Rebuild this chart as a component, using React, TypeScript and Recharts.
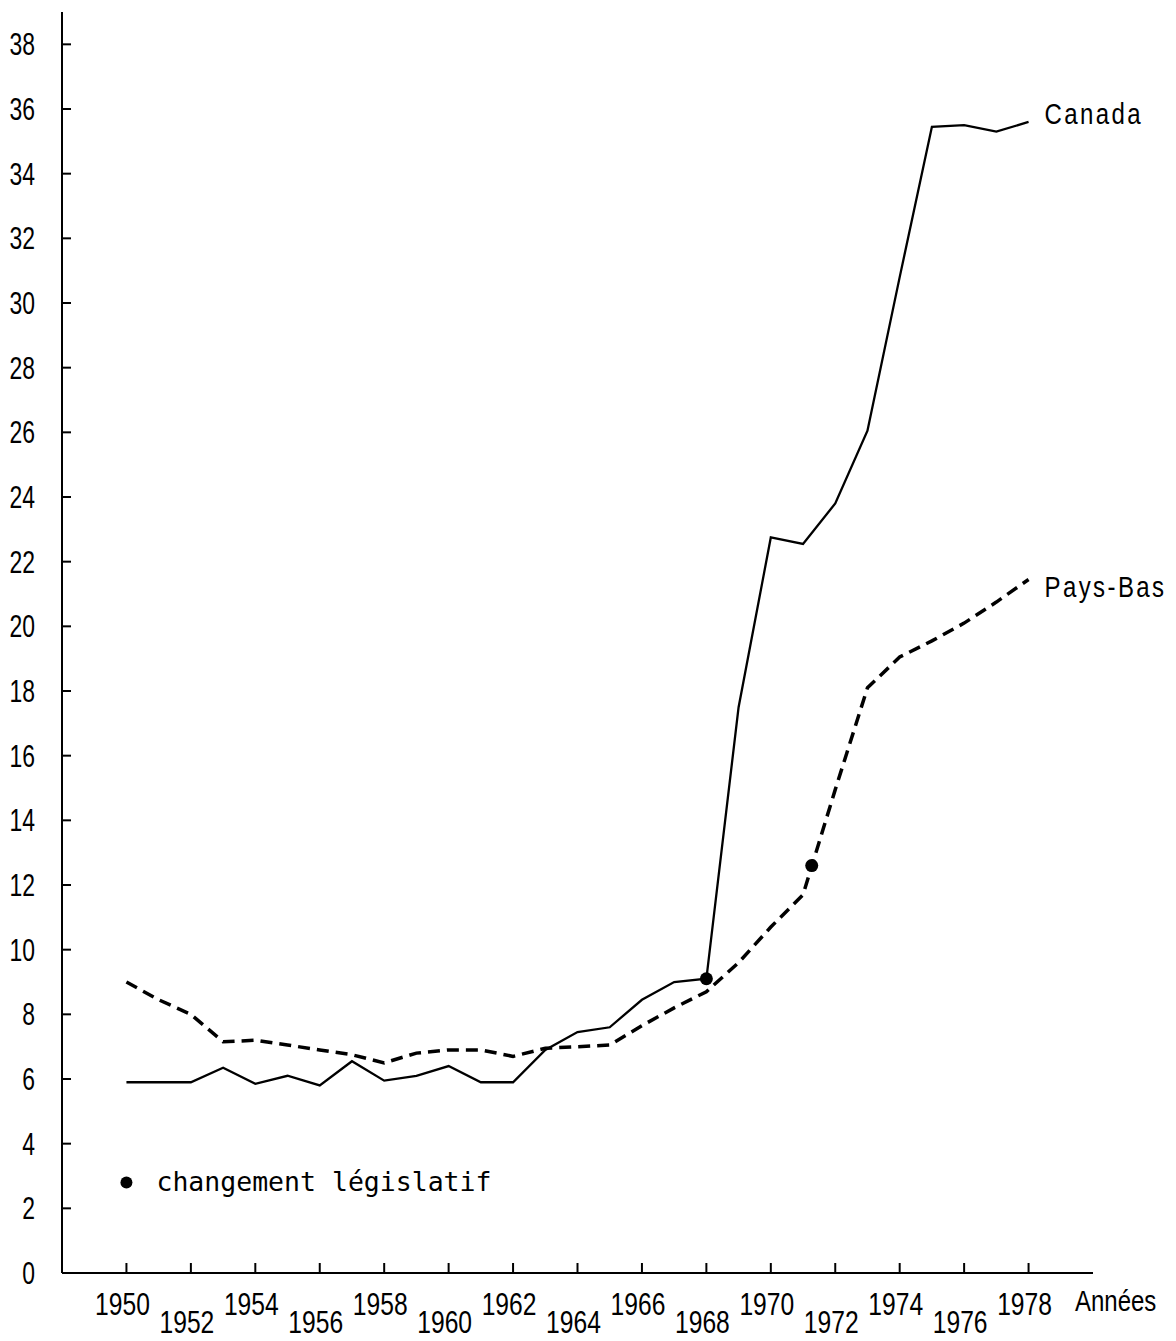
import { ComposedChart, Line, Scatter, XAxis, YAxis, ReferenceDot, LabelList } from "recharts"

// years on the x axis
const years = [
  1950, 1951, 1952, 1953, 1954, 1955, 1956, 1957, 1958, 1959,
  1960, 1961, 1962, 1963, 1964, 1965, 1966, 1967, 1968, 1969,
  1970, 1971, 1972, 1973, 1974, 1975, 1976, 1977, 1978,
]

// Canada - solid line
const canada = [
  5.9, 5.9, 5.9, 6.35, 5.85, 6.1, 5.8, 6.55, 5.95, 6.1,
  6.4, 5.9, 5.9, 6.9, 7.45, 7.6, 8.45, 9.0, 9.1, 17.5,
  22.75, 22.55, 23.8, 26.05, 30.8, 35.45, 35.5, 35.3, 35.6,
]

// Pays-Bas - dashed line
const paysBas = [
  9.0, 8.45, 8.0, 7.15, 7.2, 7.05, 6.9, 6.75, 6.5, 6.8,
  6.9, 6.9, 6.7, 6.95, 7.0, 7.05, 7.65, 8.2, 8.7, 9.6,
  10.7, 11.7, 14.95, 18.1, 19.05, 19.55, 20.1, 20.75, 21.45,
]

// legislative changes (dots)
const changeYears = [1968, 1971.27]
const changeValues = [9.1, 12.6]

const xTicks = [1950, 1952, 1954, 1956, 1958, 1960, 1962, 1964, 1966, 1968, 1970, 1972, 1974, 1976, 1978]
const yTicks = [0, 2, 4, 6, 8, 10, 12, 14, 16, 18, 20, 22, 24, 26, 28, 30, 32, 34, 36, 38]

const legendText = "changement législatif"

const chartData = years.map((year, i) => ({ year, canada: canada[i], paysBas: paysBas[i] }))
const changes = changeYears.map((year, i) => ({ year, value: changeValues[i] }))

const sans = "'Liberation Sans', Arial, sans-serif"
const mono = "'DejaVu Sans Mono', 'Liberation Mono', monospace"

// condensed text: no narrow font installed, so squeeze a regular one
const NarrowText = ({ x, y, size, sx, anchor = "start", ls = 0, children }: any) => (
  <text
    transform={`translate(${x},${y}) scale(${sx},1)`}
    textAnchor={anchor}
    fontFamily={sans}
    fontSize={size}
    letterSpacing={ls}
    fill="#000"
  >
    {children}
  </text>
)

const XTick = ({ x, y, payload, index }: any) => {
  const low = index % 2 === 1
  return (
    <g>
      <line x1={x} y1={y} x2={x} y2={y - 10} stroke="#000" strokeWidth={2} />
      <NarrowText x={x - 4} y={y + (low ? 60 : 42)} size={32} sx={0.77} anchor="middle">
        {payload.value}
      </NarrowText>
    </g>
  )
}

const YTick = ({ x, y, payload }: any) => (
  <g>
    <line x1={x} y1={y} x2={x + 9} y2={y} stroke="#000" strokeWidth={2} />
    <NarrowText x={x - 27} y={y + 11} size={31} sx={0.74} anchor="end">
      {payload.value}
    </NarrowText>
  </g>
)

const endLabel = (name: string, dy: number) => (props: any) => {
  if (props.index !== years.length - 1) return null
  return (
    <NarrowText x={props.x + 16} y={props.y + dy} size={30} sx={0.8} ls={3}>
      {name}
    </NarrowText>
  )
}

const Dot = (props: any) => <circle cx={props.cx} cy={props.cy} r={6.5} fill="#000" />

export default function App() {
  return (
    <div style={{ position: "absolute", left: 0, top: 0, background: "#fff" }}>
      <ComposedChart
        width={1176}
        height={1341}
        data={chartData}
        margin={{ top: 12, right: 83, left: 2, bottom: 38 }}
      >
        <XAxis
          dataKey="year"
          type="number"
          domain={[1948, 1980]}
          ticks={xTicks}
          interval={0}
          tickSize={0}
          tickMargin={0}
          tickLine={false}
          tick={<XTick />}
          axisLine={{ stroke: "#000", strokeWidth: 2 }}
          height={30}
          label={{
            content: ({ viewBox }: any) => (
              <NarrowText x={viewBox.x + viewBox.width - 18} y={viewBox.y + 38} size={30} sx={0.8}>
                Années
              </NarrowText>
            ),
          }}
        />
        <YAxis
          type="number"
          domain={[0, 39]}
          ticks={yTicks}
          interval={0}
          tickSize={0}
          tickMargin={0}
          tickLine={false}
          tick={<YTick />}
          axisLine={{ stroke: "#000", strokeWidth: 2 }}
          width={60}
        />

        <Line
          type="linear"
          dataKey="canada"
          stroke="#000"
          strokeWidth={2.3}
          dot={false}
          activeDot={false}
          isAnimationActive={false}
        >
          <LabelList dataKey="canada" content={endLabel("Canada", 2)} />
        </Line>

        <Line
          type="linear"
          dataKey="paysBas"
          stroke="#000"
          strokeWidth={3.5}
          strokeDasharray="12 7"
          dot={false}
          activeDot={false}
          isAnimationActive={false}
        >
          <LabelList dataKey="paysBas" content={endLabel("Pays-Bas", 18)} />
        </Line>

        <Scatter data={changes} dataKey="value" shape={<Dot />} isAnimationActive={false} />

        {/* legend for the dots */}
        <ReferenceDot
          x={1950}
          y={2.8}
          r={6}
          fill="#000"
          stroke="none"
          label={{
            content: ({ viewBox }: any) => (
              <text
                x={viewBox.x + viewBox.width / 2 + 30}
                y={viewBox.y + viewBox.height / 2 + 9}
                fontFamily={mono}
                fontSize={26.5}
                fill="#000"
              >
                {legendText}
              </text>
            ),
          }}
        />
      </ComposedChart>
    </div>
  )
}
